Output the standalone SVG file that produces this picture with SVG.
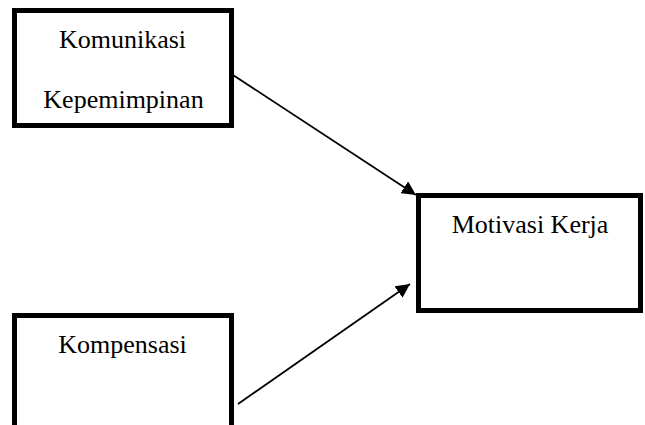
<svg xmlns="http://www.w3.org/2000/svg" width="645" height="425" viewBox="0 0 645 425">
<style>
.box{fill:#fff;stroke:#000;stroke-width:5}
.t{font-family:"Liberation Serif","Times New Roman",serif;font-size:26px;fill:#000;text-anchor:middle}
.c{stroke:#000;stroke-width:1.8;fill:none}
</style>
<defs>
<marker id="ah" viewBox="0 0 10 10" refX="10" refY="5" markerWidth="14" markerHeight="14" markerUnits="userSpaceOnUse" orient="auto">
<path d="M0,0 L10,5 L0,10 z" fill="#000"/>
</marker>
</defs>
<rect width="645" height="425" fill="#fff"/>
<g id="komunikasi">
<rect class="box" x="14.5" y="10.5" width="217" height="115"/>
<text class="t" x="122.5" y="48">Komunikasi</text>
<text class="t" x="123.5" y="108">Kepemimpinan</text>
</g>
<g id="motivasi">
<rect class="box" x="418.5" y="195.5" width="222" height="115"/>
<text class="t" x="530" y="233">Motivasi Kerja</text>
</g>
<g id="kompensasi">
<rect class="box" x="14.5" y="315.5" width="217" height="130"/>
<text class="t" x="122.5" y="353">Kompensasi</text>
</g>
<g id="connectors">
<line class="c" x1="233" y1="75" x2="416" y2="195" marker-end="url(#ah)"/>
<line class="c" x1="238" y1="404" x2="410" y2="284" marker-end="url(#ah)"/>
</g>
</svg>
